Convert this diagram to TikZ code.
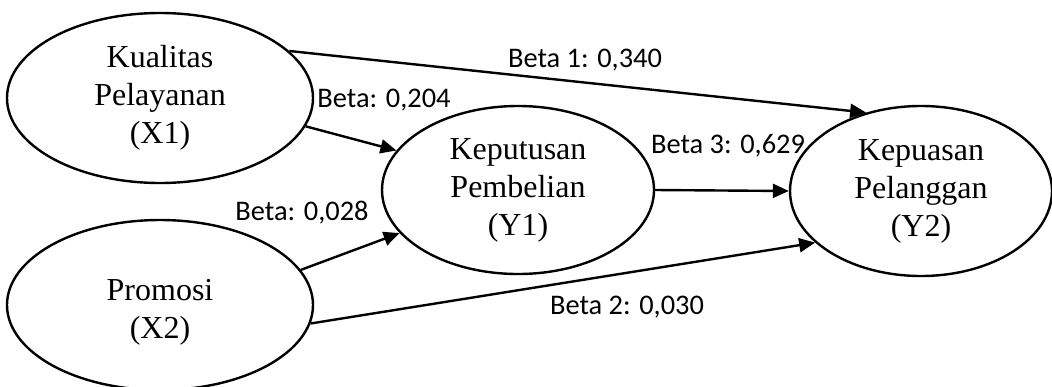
\documentclass[tikz,border=0pt]{standalone}
\usepackage{fontspec}
\setmainfont{Liberation Serif}
\newfontfamily\labelfont{Carlito}
\usetikzlibrary{shapes.geometric,arrows.meta}
\begin{document}
\begin{tikzpicture}[x=0.5pt,y=-0.5pt,
  var/.style={ellipse,draw,line width=1.2pt,inner sep=0pt,align=center,
    font=\fontsize{16}{19}\selectfont},
  arr/.style={line width=1.2pt,-{Triangle[length=8pt,width=7pt]}},
  coef/.style={font=\labelfont\fontsize{14.2}{16}\selectfont,inner sep=0pt}]
\useasboundingbox (0,0) rectangle (1052,386);
\node[var,minimum width=153pt,minimum height=85pt] (X1) at (160,98) {Kualitas\\Pelayanan\\(X1)};
\node[var,minimum width=153pt,minimum height=85pt] (X2) at (160,305) {\rule{0pt}{17.5pt}Promosi\\(X2)};
\node[var,minimum width=136pt,minimum height=84pt] (Y1) at (518,190) {Keputusan\\Pembelian\\(Y1)};
\node[var,minimum width=131pt,minimum height=85pt] (Y2) at (921,191) {Kepuasan\\Pelanggan\\(Y2)};
\draw[arr] (X1.20) -- (Y2.125);
\draw[arr] (X1.-11) -- (Y1.162);
\draw[arr] (X2.14) -- (Y1.-160);
\draw[arr] (X2.-7.6) -- (Y2.206);
\draw[arr] (Y1.east) -- (Y2.west);
\node[coef] (b1) at (585,60) {Beta 1: 0,340};
\node[coef] (b204) at (384,100) {Beta: 0,204};
\node[coef] (b3) at (728,146) {Beta 3: 0,629};
\node[coef] (b028) at (302,213) {Beta: 0,028};
\node[coef] (b2) at (627,307) {Beta 2: 0,030};
\end{tikzpicture}
\end{document}
